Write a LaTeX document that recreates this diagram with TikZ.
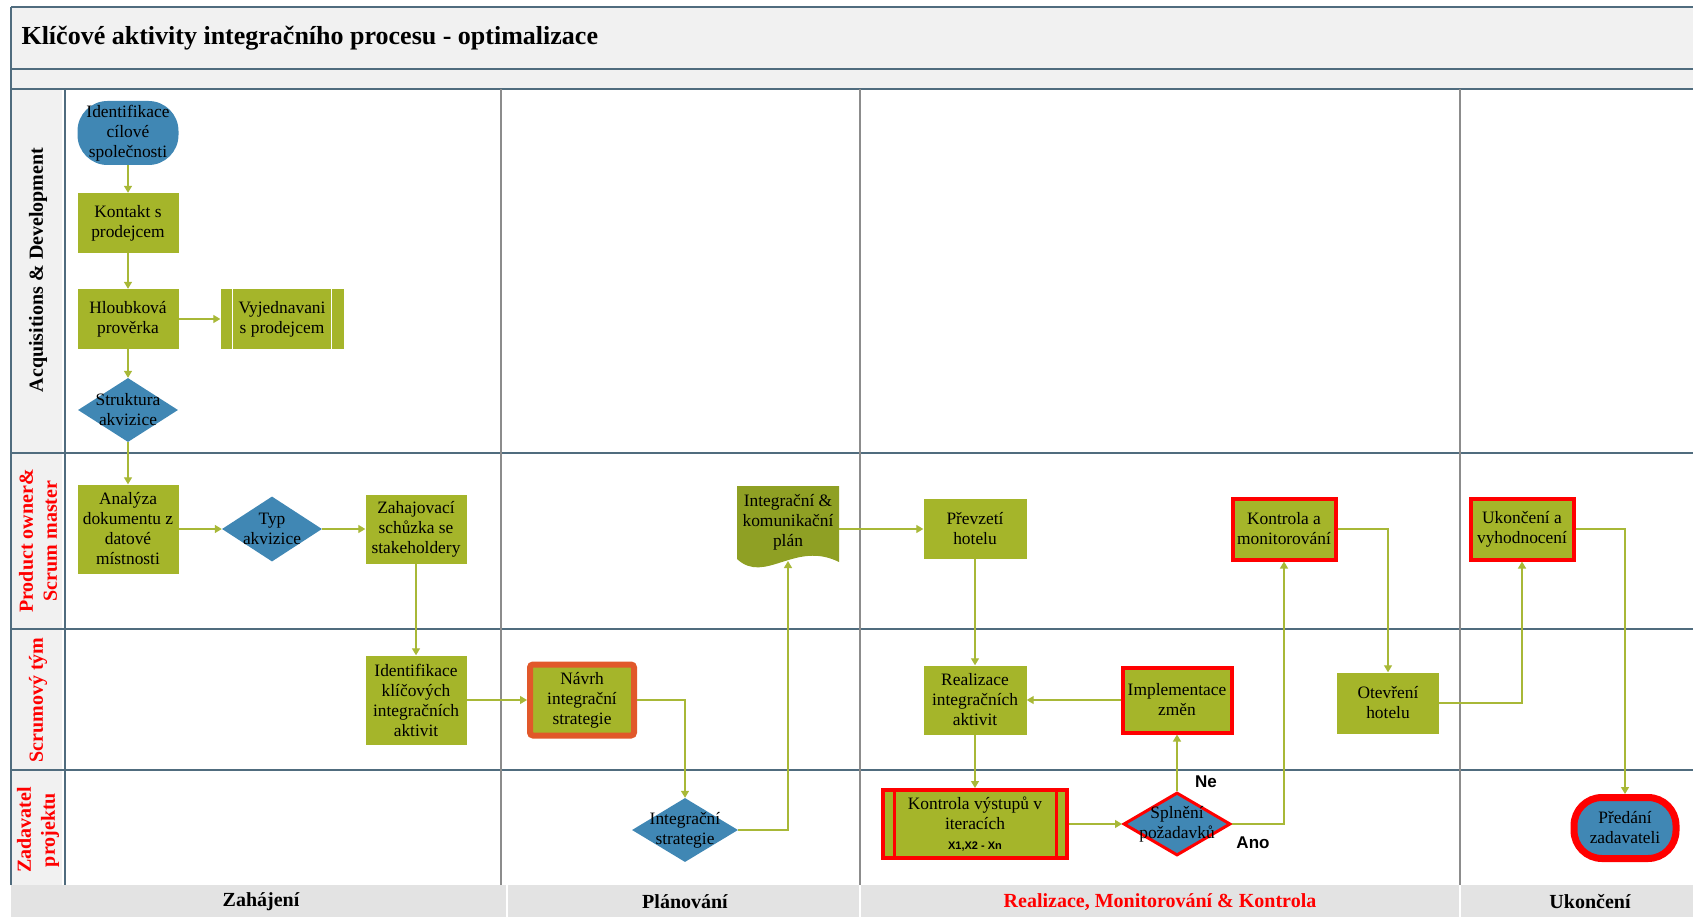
\documentclass[tikz,border=0pt]{standalone}
\usepackage{fontspec}
\setmainfont{Liberation Serif}
\newfontfamily\sansbold{Liberation Sans}
\usepackage{tikz}
\usetikzlibrary{arrows.meta,shapes.geometric}

\definecolor{taskgreen}{RGB}{165,181,42}
\definecolor{docgreen}{RGB}{143,160,36}
\definecolor{stepblue}{RGB}{64,135,180}
\definecolor{flowgreen}{RGB}{168,184,55}
\definecolor{laneline}{RGB}{80,108,126}
\definecolor{colline}{RGB}{140,140,140}
\definecolor{headfill}{RGB}{241,241,241}
\definecolor{footfill}{RGB}{227,227,227}
\definecolor{borderorange}{RGB}{225,88,42}

\begin{document}
\begin{tikzpicture}[x=1pt,y=-1pt,
    txt/.style={font=\fontsize{17.4}{20}\selectfont, align=center, text=black},
    task/.style={txt, rectangle, fill=taskgreen, inner sep=0pt},
    hot/.style={task, draw=red, line width=4pt},
    terminal/.style={txt, rectangle, rounded corners=30pt, fill=stepblue, inner sep=0pt},
    decision/.style={diamond, fill=stepblue, inner sep=0pt},
    flow/.style={draw=flowgreen, line width=1.3pt, -{Triangle[width=8pt,length=7pt]}},
    lane/.style={font=\fontsize{20}{24}\selectfont\bfseries, align=center, rotate=90},
    phase/.style={font=\fontsize{20}{24}\selectfont\bfseries},
  ]
  \useasboundingbox (0,0) rectangle (1693,917);

  % pool frame
  \fill[headfill] (11,7) rectangle (1693,89);
  \fill[headfill] (11,89) rectangle (62,885);
  \fill[footfill] (11,885) rectangle (1693,917);
  \foreach \x in {507,860,1460}
    \draw[white, line width=2pt] (\x,885) -- (\x,917);
  \foreach \y in {7,69,89,453,629,770}
    \draw[laneline, line width=1.8pt] (11,\y) -- (1693,\y);
  \draw[laneline, line width=1.6pt] (11,7) -- (11,885);
  \draw[laneline, line width=1.6pt] (65,89) -- (65,885);
  \foreach \x in {501,860,1460}
    \draw[colline, line width=2pt] (\x,89) -- (\x,885);

  \node[font=\fontsize{26}{30}\selectfont\bfseries, anchor=west] (title) at (18,38)
    {Klíčové aktivity integračního procesu - optimalizace};

  % lanes
  \node[lane] (laneAD) at (38,270) {Acquisitions \& Development};
  \node[lane, text=red] (lanePO) at (38,541) {Product owner\&\\Scrum master};
  \node[lane, text=red] (laneST) at (38,700) {Scrumový tým};
  \node[lane, text=red] (laneZP) at (38,830) {Zadavatel\\projektu};

  % phases
  \node[phase] (phZ) at (261,902) {Zahájení};
  \node[phase] (phP) at (685,902) {Plánování};
  \node[phase, text=red] (phR) at (1160,902) {Realizace, Monitorování \& Kontrola};
  \node[phase] (phU) at (1590,902) {Ukončení};

  % Zahajeni
  \node[terminal, minimum width=101, minimum height=64] (ident) at (128,133)
    {Identifikace\\cílové\\společnosti};
  \node[task, minimum width=101, minimum height=60] (kontakt) at (128,223) {Kontakt s\\prodejcem};
  \node[task, minimum width=101, minimum height=60] (hloub) at (128,319) {Hloubková\\prověrka};
  \node[task, minimum width=123, minimum height=60] (vyjed) at (282,319) {Vyjednavani\\s prodejcem};
  \draw[white, line width=1.5pt] ([xshift=12pt]vyjed.north west) -- ([xshift=12pt]vyjed.south west);
  \draw[white, line width=1.5pt] ([xshift=-12pt]vyjed.north east) -- ([xshift=-12pt]vyjed.south east);
  \node[decision, minimum width=100, minimum height=64,
    label={[txt]center:Struktura\\akvizice}] (strukt) at (128,410) {};
  \node[task, minimum width=101, minimum height=89] (analyza) at (128,529)
    {Analýza\\dokumentu z\\datové\\místnosti};
  \node[decision, minimum width=100, minimum height=65,
    label={[txt]center:Typ\\akvizice}] (typ) at (272,529) {};
  \node[task, minimum width=101, minimum height=69] (zahaj) at (416,529)
    {Zahajovací\\schůzka se\\stakeholdery};
  \node[task, minimum width=101, minimum height=89] (klicove) at (416,700)
    {Identifikace\\klíčových\\integračních\\aktivit};

  % Planovani
  \node[task, draw=borderorange, line width=6pt, rounded corners=3pt,
    minimum width=104, minimum height=71] (navrh) at (582,700) {Návrh\\integrační\\strategie};
  \node[decision, minimum width=106, minimum height=64,
    label={[txt]center:Integrační\\strategie}] (istrat) at (685,830) {};
  \fill[docgreen] (737,486) -- (839,486) -- (839,562)
    .. controls (795,540) and (765,585) .. (737,559) -- cycle;
  \node[txt, minimum width=101, minimum height=72] (plan) at (788,522)
    {Integrační \&\\komunikační\\plán};
  \coordinate (planS) at (788,561);

  % Realizace
  \node[task, minimum width=103, minimum height=60] (prevzeti) at (975,529) {Převzetí\\hotelu};
  \node[task, minimum width=103, minimum height=69] (realiz) at (975,700)
    {Realizace\\integračních\\aktivit};
  \node[hot, minimum width=109, minimum height=65] (implem) at (1177,700) {Implementace\\změn};
  \node[hot, minimum width=184, minimum height=68] (kvystup) at (975,824)
    {Kontrola výstupů v\\iteracích\\{\sansbold\bfseries\fontsize{11}{14}\selectfont X1,X2 - Xn}};
  \draw[red, line width=3pt] ([xshift=13pt]kvystup.north west) -- ([xshift=13pt]kvystup.south west);
  \draw[red, line width=3pt] ([xshift=-13pt]kvystup.north east) -- ([xshift=-13pt]kvystup.south east);
  \node[decision, draw=red, line width=3pt, minimum width=107, minimum height=63,
    label={[txt]center:Splnění\\požadavků}] (splneni) at (1177,824) {};
  \node[hot, minimum width=103, minimum height=61] (kmonit) at (1284,529) {Kontrola a\\monitorování};
  \node[task, minimum width=102, minimum height=61] (otevreni) at (1388,703) {Otevření\\hotelu};
  \node[font=\sansbold\bfseries\fontsize{17}{20}\selectfont] (ne) at (1206,782) {Ne};
  \node[font=\sansbold\bfseries\fontsize{17}{20}\selectfont] (ano) at (1253,843) {Ano};

  % Ukonceni
  \node[hot, minimum width=103, minimum height=61] (ukonceni) at (1522,529)
    {Ukončení a\\vyhodnocení};
  \node[terminal, draw=red, line width=7pt, rounded corners=28pt,
    minimum width=102, minimum height=61] (predani) at (1625,828) {Předání\\zadavateli};

  % flow
  \draw[flow] (ident) -- (kontakt);
  \draw[flow] (kontakt) -- (hloub);
  \draw[flow] (hloub) -- (vyjed);
  \draw[flow] (hloub) -- (strukt);
  \draw[flow] (strukt) -- (analyza);
  \draw[flow] (analyza) -- (typ);
  \draw[flow] (typ) -- (zahaj);
  \draw[flow] (zahaj) -- (klicove);
  \draw[flow] (klicove) -- (navrh);
  \draw[flow] (navrh.east) -| (istrat.north);
  \draw[flow] (istrat.east) -| (planS);
  \draw[flow] (plan.east |- prevzeti.west) -- (prevzeti.west);
  \draw[flow] (prevzeti) -- (realiz);
  \draw[flow] (realiz) -- (kvystup);
  \draw[flow] (kvystup) -- (splneni);
  \draw[flow] (splneni) -- (implem);
  \draw[flow] (implem) -- (realiz);
  \draw[flow] (splneni.east) -| (kmonit.south);
  \draw[flow] (kmonit.east) -| (otevreni.north);
  \draw[flow] (otevreni.east) -| (ukonceni.south);
  \draw[flow] (ukonceni.east) -| (predani.north);
\end{tikzpicture}
\end{document}
